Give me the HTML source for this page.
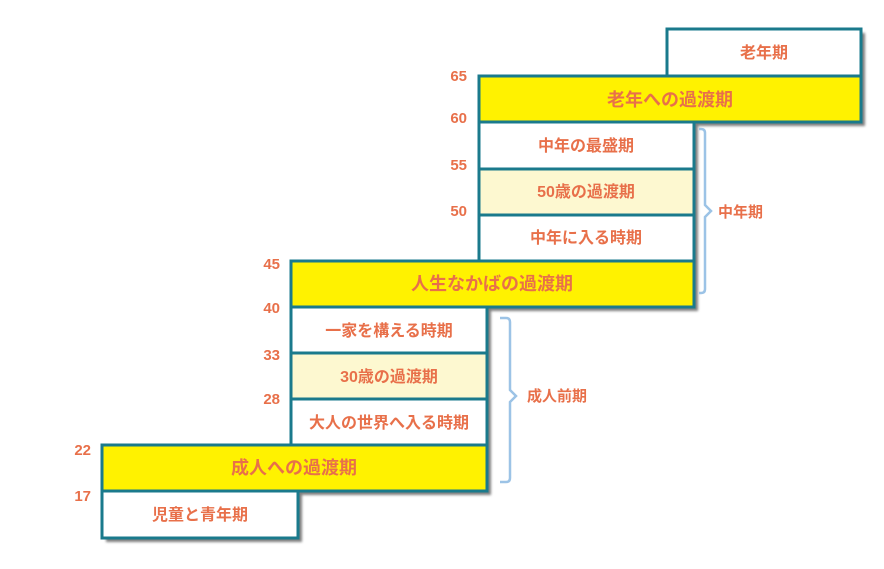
<!DOCTYPE html>
<html><head><meta charset="utf-8"><style>
html,body{margin:0;padding:0;background:#fff;}
svg text{font-family:"Liberation Sans","Noto Sans CJK JP",sans-serif;font-weight:bold;fill:#e8704a;}
</style></head><body>
<svg width="884" height="564" xmlns="http://www.w3.org/2000/svg">
<defs><filter id="sh" x="-5%" y="-5%" width="115%" height="130%"><feGaussianBlur stdDeviation="1.2"/></filter></defs>
<g fill="#555" opacity="0.75" filter="url(#sh)">
<rect x="671" y="33" width="194" height="47"/>
<rect x="483" y="80" width="382" height="46"/>
<rect x="483" y="126" width="215" height="139"/>
<rect x="295" y="265" width="403" height="46"/>
<rect x="295" y="311" width="196" height="138"/>
<rect x="106" y="449" width="385" height="46"/>
<rect x="106" y="495" width="196" height="47"/>
</g>
<g stroke="#1a7a8c" stroke-width="3">
<rect x="667" y="29" width="194" height="47" fill="#fff"/>
<rect x="479" y="122" width="215" height="47" fill="#fff"/>
<rect x="479" y="169" width="215" height="46" fill="#fdf8d0"/>
<rect x="479" y="215" width="215" height="46" fill="#fff"/>
<rect x="479" y="76" width="382" height="46" fill="#fff200"/>
<rect x="291" y="307" width="196" height="46" fill="#fff"/>
<rect x="291" y="353" width="196" height="46" fill="#fdf8d0"/>
<rect x="291" y="399" width="196" height="46" fill="#fff"/>
<rect x="291" y="261" width="403" height="46" fill="#fff200"/>
<rect x="102" y="491" width="196" height="47" fill="#fff"/>
<rect x="102" y="445" width="385" height="46" fill="#fff200"/>
</g>
<g fill="none" stroke="#9cc3e6" stroke-width="2.5">
<path d="M699,129 h2 q4,0 4,4 v72 l6,6 l-6,6 v72 q0,4 -4,4 h-2"/>
<path d="M500,318 h6 q4,0 4,4 v68 l6,6 l-6,6 v76 q0,4 -4,4 h-6"/>
</g>
<g text-anchor="middle" font-size="16">
<text x="764" y="58">老年期</text>
<text x="670" y="106" font-size="18">老年への過渡期</text>
<text x="586" y="151">中年の最盛期</text>
<text x="586" y="197">50歳の過渡期</text>
<text x="586" y="243">中年に入る時期</text>
<text x="492" y="290" font-size="18">人生なかばの過渡期</text>
<text x="389" y="336">一家を構える時期</text>
<text x="389" y="382">30歳の過渡期</text>
<text x="389" y="428">大人の世界へ入る時期</text>
<text x="294" y="474" font-size="18">成人への過渡期</text>
<text x="200" y="520">児童と青年期</text>
</g>
<g font-size="15">
<text x="718" y="217">中年期</text>
<text x="527" y="401">成人前期</text>
</g>
<g text-anchor="end" font-size="15">
<text x="467" y="81">65</text>
<text x="467" y="123">60</text>
<text x="467" y="170">55</text>
<text x="467" y="216">50</text>
<text x="280" y="269">45</text>
<text x="280" y="313">40</text>
<text x="280" y="360">33</text>
<text x="280" y="404">28</text>
<text x="91" y="455">22</text>
<text x="91" y="501">17</text>
</g>
</svg>
</body></html>
